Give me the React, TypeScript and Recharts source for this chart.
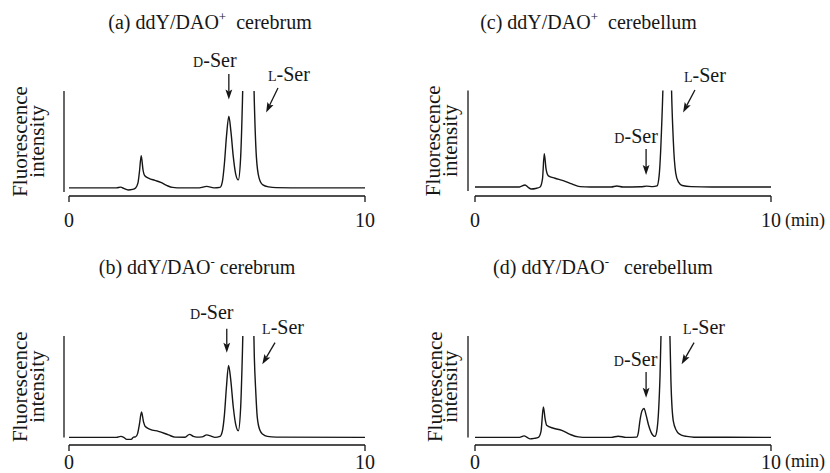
import React from 'react';
import { LineChart, Line, XAxis, YAxis, ReferenceLine } from 'recharts';

const FONT = '"Liberation Serif", "Times New Roman", serif';
const INK = '#161616';

// ---- Data (time in min, fluorescence in arbitrary units; bracket = 0..100) ----
const timeA = [0, 1.0, 1.6, 1.75, 1.85, 2.0, 2.15, 2.25, 2.33, 2.38, 2.44, 2.5, 2.56, 2.7, 2.9, 3.1, 3.3, 3.5, 3.8, 4.4, 4.65, 4.9, 5.1, 5.18, 5.25, 5.32, 5.4, 5.47, 5.55, 5.63, 5.72, 5.8, 5.86, 5.92, 6.06, 6.2, 6.26, 6.33, 6.42, 6.55, 6.75, 7.0, 8.0, 10];
const signalA = [4, 4, 4, 4.8, 3.5, 2, 2.5, 4, 9, 20, 36, 22, 16, 13.5, 11.5, 9.5, 6.5, 4.5, 4, 4, 5.5, 4, 4.5, 10, 28, 55, 75, 60, 35, 18, 12, 35, 90, 170, 400, 170, 90, 35, 14, 7, 5, 4.3, 4, 4];

const timeB = [0, 1.6, 1.75, 1.85, 1.95, 2.1, 2.18, 2.25, 2.32, 2.38, 2.45, 2.52, 2.57, 2.74, 3.02, 3.36, 3.58, 3.92, 4.07, 4.2, 4.31, 4.5, 4.65, 4.8, 4.93, 5.1, 5.18, 5.25, 5.32, 5.39, 5.46, 5.55, 5.63, 5.72, 5.8, 5.86, 5.92, 6.06, 6.2, 6.26, 6.31, 6.36, 6.45, 6.55, 6.7, 7.0, 10];
const signalB = [0, 0, 1, 0, -2, -2, 0.3, 0.5, 4, 13, 25, 15, 11, 8, 6, 2.5, 0.3, 0.2, 3, 1, 0.3, 0.5, 2.5, 1.2, 0, 1, 6, 22, 50, 71, 58, 30, 13, 6.5, 30, 85, 160, 400, 170, 80, 45, 20, 7, 3, 1, 0.3, 0];

const timeC = [0, 1.5, 1.69, 1.8, 1.9, 2.05, 2.2, 2.28, 2.34, 2.4, 2.48, 2.7, 2.98, 3.27, 3.55, 3.9, 4.6, 4.79, 5.0, 5.6, 5.8, 6.0, 6.15, 6.22, 6.3, 6.37, 6.5, 6.62, 6.7, 6.78, 6.87, 7.0, 7.3, 8.0, 10];
const signalC = [4, 4, 6, 3.5, 2, 2.5, 4, 12, 37, 22, 15, 12.7, 10.3, 7, 4.3, 4, 4, 5, 4, 4.2, 4.8, 4.3, 5, 15, 60, 130, 500, 130, 50, 18, 9, 5.5, 4.3, 4, 4];

const timeD = [0, 1.5, 1.66, 1.76, 1.86, 2.0, 2.14, 2.23, 2.31, 2.37, 2.42, 2.65, 2.93, 3.21, 3.49, 3.8, 4.6, 4.84, 5.1, 5.46, 5.52, 5.57, 5.64, 5.71, 5.78, 5.86, 5.95, 6.08, 6.15, 6.2, 6.25, 6.3, 6.43, 6.57, 6.62, 6.7, 6.8, 6.87, 7.0, 7.15, 7.4, 10];
const signalD = [0, 0, 1.5, 0, -1.5, -1, 0, 6, 30, 18, 12, 9, 7, 3, 0.5, 0, 0, 1.2, 0, 0.3, 5, 16, 26, 28.5, 22, 12.5, 5, 1, 8, 25, 60, 120, 400, 120, 55, 16, 7, 4, 2, 1, 0.2, 0];

const xTicks = [0, 10];
const yTicks = [0, 100];

// peak labels: [name, tail time, tail value, tip time, tip value]
const peaksA: [string, number, number, number, number][] = [['D', 5.4, 116.8, 5.4, 91.6], ['L', 7.06, 103, 6.66, 78.7]];
const peaksB: [string, number, number, number, number][] = [['D', 5.33, 107.2, 5.33, 83.5], ['L', 6.96, 93.4, 6.53, 72.1]];
const peaksC: [string, number, number, number, number][] = [['D', 5.78, 41.8, 5.78, 15.9], ['L', 7.43, 100.5, 7.03, 78.1]];
const peaksD: [string, number, number, number, number][] = [['D', 5.78, 64.5, 5.78, 39.2], ['L', 7.4, 93.4, 6.98, 72.1]];

const build = (t: number[], v: number[]) => t.map((x, i) => ({ t: x, v: v[i] }));

const makeArrow = (label: string, tdx: number, tdy: number) => (p: any) => {
  const { x1, y1, x2, y2 } = p;
  if (![x1, y1, x2, y2].every((n) => typeof n === 'number' && isFinite(n))) return <g />;
  const dx = x2 - x1;
  const dy = y2 - y1;
  const len = Math.hypot(dx, dy) || 1;
  const ux = dx / len;
  const uy = dy / len;
  const head = 10;
  const hw = 3.4;
  const bx = x2 - ux * head;
  const by = y2 - uy * head;
  const px = -uy;
  const py = ux;
  return (
    <g>
      <line x1={x1} y1={y1} x2={bx + ux * 2} y2={by + uy * 2} stroke={INK} strokeWidth={1.3} />
      <polygon
        points={`${x2},${y2} ${bx + px * hw},${by + py * hw} ${bx + ux * 2},${by + uy * 2} ${bx - px * hw},${by - py * hw}`}
        fill={INK}
      />
      <text x={x1 + tdx} y={y1 + tdy} textAnchor="middle" fontFamily={FONT} fontSize={20} fill={INK}>
        <tspan fontSize={14}>{label}</tspan>-Ser
      </text>
    </g>
  );
};

type Panel = {
  left: number;
  top: number;
  height: number;
  marginTop: number;
  marginRight: number;
  marginBottom: number;
  yWidth: number;
  xHeight: number;
  padLeft: number;
  yMin: number;
  tickMargin: number;
  labelX: [number, number];
  showMin: boolean;
  data: { t: number; v: number }[];
  peaks: [string, number, number, number, number][];
  textOffsets: [number, number][];
};

const panels: Panel[] = [
  { left: 0, top: 0, height: 236, marginTop: 91, marginRight: 50, marginBottom: 10, yWidth: 64, xHeight: 30, padLeft: 5, yMin: -4, tickMargin: 10.6, labelX: [27, 44], showMin: false, data: build(timeA, signalA), peaks: peaksA, textOffsets: [[-14, -7], [11, -7]] },
  { left: 415, top: 0, height: 236, marginTop: 90.5, marginRight: 59, marginBottom: 10, yWidth: 53, xHeight: 30, padLeft: 7, yMin: -5, tickMargin: 10.6, labelX: [25, 42], showMin: true, data: build(timeC, signalC), peaks: peaksC, textOffsets: [[-10, -6], [10, -8]] },
  { left: 0, top: 236, height: 237, marginTop: 100, marginRight: 50, marginBottom: 0, yWidth: 64, xHeight: 28, padLeft: 5, yMin: -7.5, tickMargin: 3.5, labelX: [27, 44], showMin: false, data: build(timeB, signalB), peaks: peaksB, textOffsets: [[-15, -9.4], [8, -8.4]] },
  { left: 415, top: 236, height: 237, marginTop: 100, marginRight: 59, marginBottom: 0, yWidth: 53, xHeight: 28, padLeft: 7, yMin: -7.5, tickMargin: 3.5, labelX: [26.5, 42], showMin: true, data: build(timeD, signalD), peaks: peaksD, textOffsets: [[-10.5, -6], [10, -8.4]] },
];

const titles = [
  { x: 210, y: 28.5, id: 'a', sup: '+', gap: '\u00A0\u00A0', tissue: 'cerebrum' },
  { x: 588.5, y: 28.5, id: 'c', sup: '+', gap: '\u00A0\u00A0', tissue: 'cerebellum' },
  { x: 197, y: 274, id: 'b', sup: '-', gap: '\u00A0', tissue: 'cerebrum' },
  { x: 603, y: 274, id: 'd', sup: '-', gap: '\u00A0\u00A0\u00A0', tissue: 'cerebellum' },
];

const XTick = (props: any) => {
  const { x, y, payload, showMin } = props;
  return (
    <g>
      <text x={x} y={y} dy="0.71em" textAnchor="middle" fontFamily={FONT} fontSize={20} fill={INK}>
        {payload.value}
      </text>
      {showMin && payload.value === 10 && (
        <text x={x + 14} y={y} dy="0.72em" textAnchor="start" fontFamily={FONT} fontSize={18} fill={INK}>
          (min)
        </text>
      )}
    </g>
  );
};

const YLabel = (props: any) => {
  const { lx, cy } = props;
  return (
    <g>
      <text transform={`translate(${lx[0]},${cy}) rotate(-90)`} textAnchor="middle" fontFamily={FONT} fontSize={21} fill={INK}>
        Fluorescence
      </text>
      <text transform={`translate(${lx[1]},${cy}) rotate(-90)`} textAnchor="middle" fontFamily={FONT} fontSize={21} fill={INK}>
        intensity
      </text>
    </g>
  );
};

const PanelChart = ({ p }: { p: Panel }) => {
  const width = 415;
  const plotTop = p.marginTop;
  const plotBottom = p.height - p.marginBottom - p.xHeight;
  const plotH = plotBottom - plotTop;
  const bracketLen = (plotH * 100) / (100 - p.yMin);
  const plotW = width - p.marginRight - p.yWidth;
  const cy = plotTop + bracketLen / 2;
  return (
    <div style={{ position: 'absolute', left: p.left, top: p.top, width, height: p.height }}>
      <LineChart
        width={width}
        height={p.height}
        data={p.data}
        margin={{ top: p.marginTop, right: p.marginRight, bottom: p.marginBottom, left: 0 }}
        style={{ overflow: 'visible' }}
      >
        <XAxis
          dataKey="t"
          type="number"
          domain={[0, 10]}
          ticks={xTicks}
          padding={{ left: p.padLeft, right: 0 }}
          height={p.xHeight}
          tickSize={6}
          tickMargin={p.tickMargin}
          axisLine={{ stroke: INK, strokeWidth: 1.3, strokeDasharray: `0 ${p.padLeft} ${plotW - p.padLeft} 1000` }}
          tickLine={{ stroke: INK, strokeWidth: 1.3 }}
          tick={(tp: any) => <XTick {...tp} showMin={p.showMin} />}
          interval={0}
        />
        <YAxis
          type="number"
          domain={[p.yMin, 100]}
          allowDataOverflow
          ticks={yTicks}
          width={p.yWidth}
          tickSize={6}
          tick={false}
          axisLine={{ stroke: INK, strokeWidth: 1.3, strokeDasharray: `${bracketLen} 1000` }}
          tickLine={{ stroke: INK, strokeWidth: 1.3 }}
          label={<YLabel lx={p.labelX} cy={cy} />}
        />
        <Line
          type="monotone"
          dataKey="v"
          stroke={INK}
          strokeWidth={1.4}
          dot={false}
          activeDot={false}
          isAnimationActive={false}
        />
        {p.peaks.map((pk, i) => (
          <ReferenceLine
            key={pk[0]}
            segment={[
              { x: pk[1], y: pk[2] },
              { x: pk[3], y: pk[4] },
            ]}
            ifOverflow="visible"
            stroke={INK}
            shape={makeArrow(pk[0], p.textOffsets[i][0], p.textOffsets[i][1])}
          />
        ))}
      </LineChart>
    </div>
  );
};

export default function App() {
  return (
    <div style={{ position: 'absolute', left: 0, top: 0, width: 830, height: 473, background: '#fff', overflow: 'hidden' }}>
      <svg width={830} height={473} style={{ position: 'absolute', left: 0, top: 0 }}>
        {titles.map((t) => (
          <text key={t.id} x={t.x} y={t.y} textAnchor="middle" fontFamily={FONT} fontSize={20} fill={INK}>
            ({t.id}) ddY/DAO
            <tspan dy={-8} fontSize={13}>{t.sup}</tspan>
            <tspan dy={8}>{t.gap + t.tissue}</tspan>
          </text>
        ))}
      </svg>
      {panels.map((p, i) => (
        <PanelChart key={i} p={p} />
      ))}
    </div>
  );
}
